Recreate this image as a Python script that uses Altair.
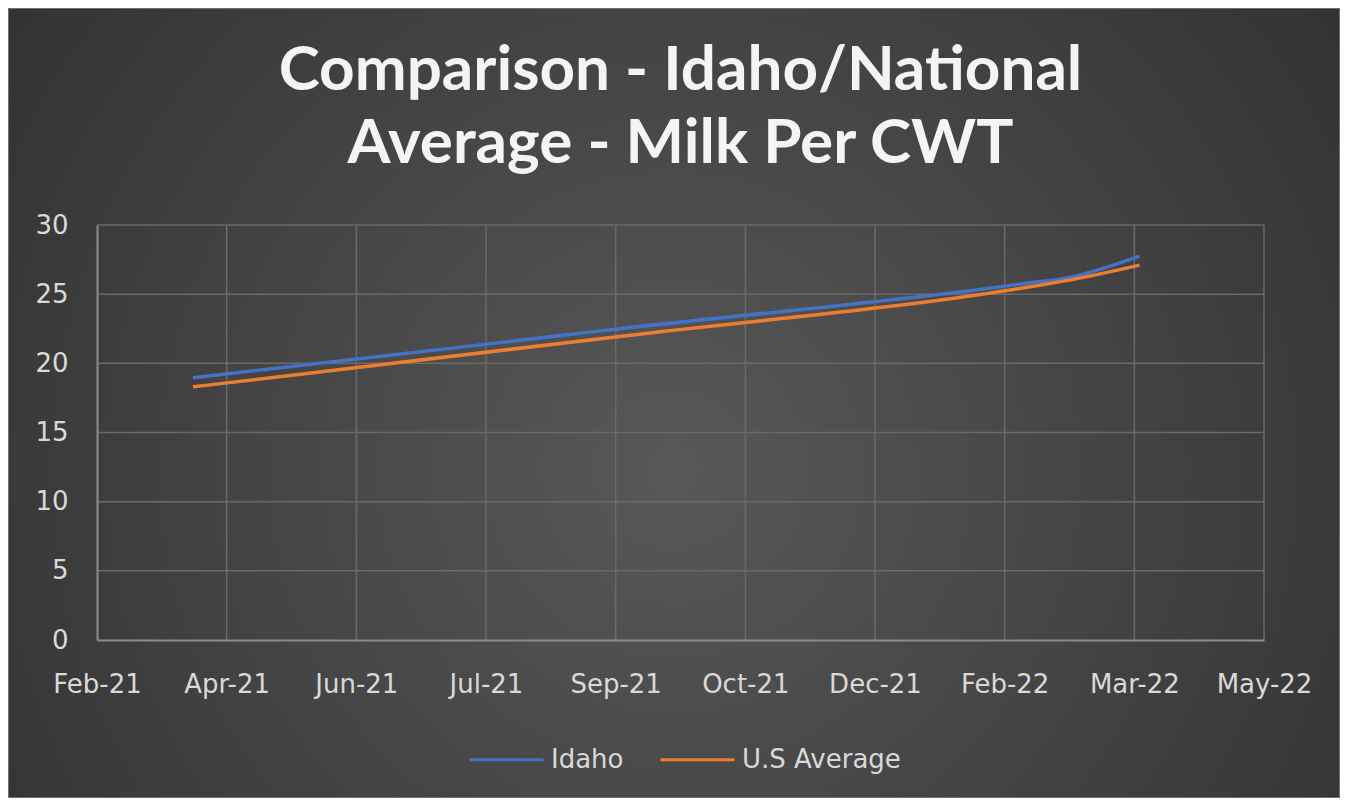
import altair as alt
import pandas as pd

# ---- data ----
dates = ["2021-04-01", "2021-09-15", "2022-02-15", "2022-03-06", "2022-04-01"]
idaho = [18.95, 22.55, 25.75, 26.25, 27.75]
us_avg = [18.3, 22.0, 25.45, 26.05, 27.1]
series = ["Idaho", "U.S Average"]
colors = ["#4472C4", "#ED7D31"]
tick_dates = ["2021-02-23", "2021-04-14", "2021-06-03", "2021-07-23", "2021-09-11",
              "2021-10-31", "2021-12-20", "2022-02-08", "2022-03-30", "2022-05-19"]
y_ticks = [0, 5, 10, 15, 20, 25, 30]
title_text = "Comparison - Idaho/National\nAverage - Milk Per CWT"

df = pd.DataFrame({
    "date": dates * 2,
    "value": idaho + us_avg,
    "series": [series[0]] * len(dates) + [series[1]] * len(dates),
})

W, H = 1167, 415
PAD = dict(left=89, top=217, right=76, bottom=158)
FONT = "DejaVu Sans"
LABEL = "#d9d9d9"
GRID = "#6a6a6a"


def dt(s):
    y, m, d = map(int, s.split("-"))
    return alt.DateTime(year=y, month=m, date=d, utc=True)


xscale = alt.Scale(type="utc", domain=[dt(tick_dates[0]), dt(tick_dates[-1])])
yscale = alt.Scale(domain=[y_ticks[0], y_ticks[-1]])

x_axis = alt.Axis(values=[dt(s) for s in tick_dates],
                  labelExpr="utcFormat(datum.value, '%b-%y')",
                  grid=False, ticks=False, domainColor="#8c8c8c", domainWidth=2,
                  labelFont=FONT, labelFontSize=26, labelColor=LABEL,
                  labelPadding=31, zindex=1, labelFlush=False, title=None)
y_axis = alt.Axis(values=y_ticks, grid=False, ticks=False,
                  domainColor="#8c8c8c", domainWidth=2,
                  labelFont=FONT, labelFontSize=26, labelColor=LABEL,
                  labelPadding=29, zindex=1, title=None)

gradient = alt.RadialGradient(
    gradient="radial", x1=0.5, y1=0.55, r1=0, x2=0.5, y2=0.55, r2=0.75,
    stops=[alt.GradientStop(color="#585858", offset=0),
           alt.GradientStop(color="#2a2a2a", offset=1)],
)

bg = alt.Chart(alt.Data(values=[{}])).mark_rect(
    fill=gradient, stroke="#707070", strokeWidth=2
).encode(
    x=alt.value(-PAD["left"]), x2=alt.value(W + PAD["right"]),
    y=alt.value(-PAD["top"]), y2=alt.value(H + PAD["bottom"]),
)

title = alt.Chart(alt.Data(values=[{"t": title_text}])).mark_text(
    font="Lato", fontSize=62, fontWeight="bold", color="#f4f4f4",
    align="center", baseline="alphabetic", lineBreak="\n", lineHeight=73,
).encode(text="t:N", x=alt.value(W / 2), y=alt.value(-135))

grid_y = alt.Chart(pd.DataFrame({"v": y_ticks[1:]})).mark_rule(
    color=GRID, strokeWidth=1.5
).encode(y=alt.Y("v:Q", scale=yscale, axis=y_axis))

grid_x = alt.Chart(pd.DataFrame({"d": tick_dates[1:]})).mark_rule(
    color=GRID, strokeWidth=1.5
).encode(x=alt.X("d:T", scale=xscale, axis=x_axis))

lines = alt.Chart(df).mark_line(strokeWidth=3.5, interpolate="monotone").encode(
    x=alt.X("date:T", scale=xscale, axis=x_axis),
    y=alt.Y("value:Q", scale=yscale, axis=y_axis),
    color=alt.Color("series:N", scale=alt.Scale(domain=series, range=colors),
                    legend=alt.Legend(title=None, orient="none", legendX=371, legendY=496,
                                      direction="horizontal", symbolType="stroke",
                                      symbolSize=5476, symbolStrokeWidth=3,
                                      labelFont=FONT, labelFontSize=26, labelColor=LABEL,
                                      labelOffset=6, columnPadding=30)),
)

chart = alt.layer(bg, title, grid_y, grid_x, lines).properties(
    width=W, height=H, padding=PAD,
    autosize=alt.AutoSizeParams(type="none"),
    background="#2b2b2b",
).configure_view(stroke=None)

chart.save("out.html", embed_options={"renderer": "svg", "actions": False})
